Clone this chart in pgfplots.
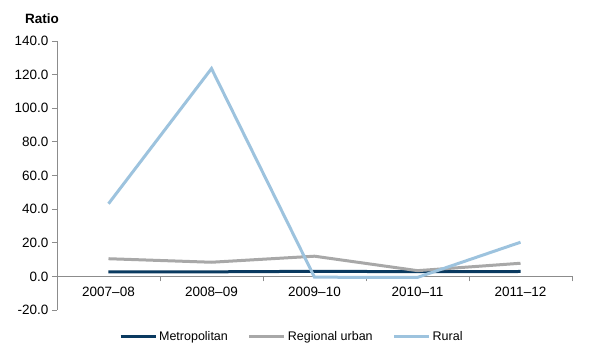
\documentclass[border=0pt]{standalone}
\usepackage{pgfplots}
\pgfplotsset{compat=1.18}
\usepackage{fontspec}
\setmainfont{Liberation Sans}
\definecolor{metro}{HTML}{0A3A60}
\definecolor{regional}{HTML}{A8A8A8}
\definecolor{rural}{HTML}{9DC3DE}
\definecolor{axgray}{HTML}{8C8C8C}
\begin{document}
\begin{tikzpicture}
\begin{axis}[
  at={(0,0)}, anchor=south west,
  scale only axis, width=515pt, height=269pt,
  xmin=-0.5, xmax=4.5, ymin=-20, ymax=140,
  axis y line=left, axis x line=middle,
  hide obscured x ticks=false,
  axis line style={axgray, line width=0.8pt, -},
  xtick={-0.5,0.5,1.5,2.5,3.5,4.5},
  xticklabels={2007--08,2008--09,2009--10,2010--11,2011--12},
  x tick label as interval,
  ytick={-20,0,20,40,60,80,100,120,140},
  tick align=outside,
  major tick length=5pt,
  tick style={axgray, line width=0.8pt},
  every tick label/.append style={font=\fontsize{13.5}{15}\selectfont},
  yticklabel style={/pgf/number format/fixed, /pgf/number format/fixed zerofill, /pgf/number format/precision=1},
  /pgf/number format/assume math mode=true,
  xticklabel style={yshift=-2pt},
  legend style={at={(0.456,-0.1)}, anchor=center, draw=none, legend columns=3, font=\fontsize{12.5}{14}\selectfont,
    /tikz/every even column/.append style={column sep=18pt}},
  legend image code/.code={\draw[#1, line width=3pt] (0pt,0pt) -- (35pt,0pt);},
  clip=false,
]
\addplot[metro, line width=3pt] coordinates {(0,2.7) (1,2.7) (2,3.0) (3,2.8) (4,2.9)};
\addlegendentry{Metropolitan}
\addplot[regional, line width=3pt] coordinates {(0,10.5) (1,8.4) (2,12.0) (3,3.4) (4,7.8)};
\addlegendentry{Regional urban}
\addplot[rural, line width=3pt] coordinates {(0,43.2) (1,123.6) (2,-0.5) (3,-0.6) (4,20.3)};
\addlegendentry{Rural}
\end{axis}
\node[font=\bfseries\fontsize{13.5}{15}\selectfont] at (-15pt,291pt) {Ratio};
\path[use as bounding box] (-57pt,-45pt) rectangle (548pt,310pt);
\end{tikzpicture}
\end{document}
